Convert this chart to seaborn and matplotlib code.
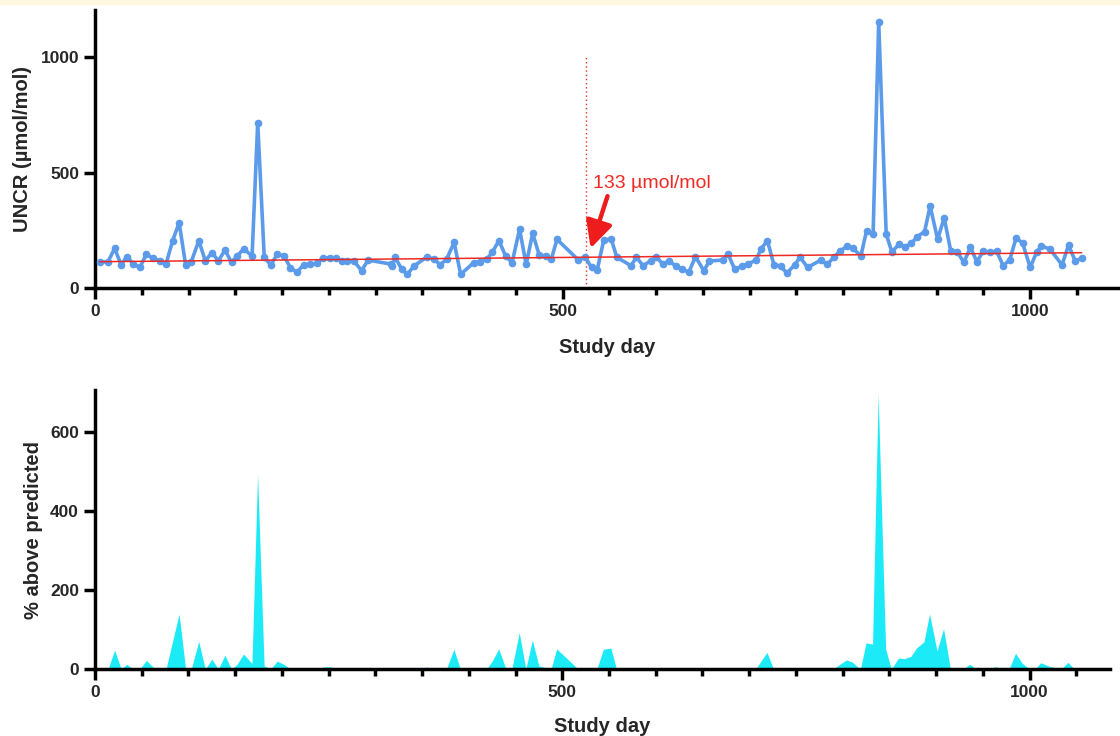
import numpy as np
import pandas as pd
import matplotlib
matplotlib.use("Agg")
import matplotlib.pyplot as plt
from matplotlib.ticker import MultipleLocator
from matplotlib.patches import Rectangle
import seaborn as sns

sns.set_style("ticks")
plt.rcParams['font.family'] = ['Liberation Sans', 'DejaVu Sans']

# urinary N-terminal ... creatinine ratio readings
study_day = [5, 14, 21, 28, 34, 41, 48, 55, 62, 70, 76, 83, 90, 97, 103, 111, 118, 125, 132, 139,
             146, 152, 159, 168, 174, 181, 188, 195, 202, 209, 216, 223, 230, 237, 244, 251, 258, 264, 270, 277,
             285, 292, 316, 318, 321, 328, 334, 341, 355, 363, 369, 376, 384, 391, 405, 412, 419, 425, 432, 439,
             446, 454, 461, 468, 475, 482, 488, 494, 517, 524, 531, 537, 544, 552, 558, 573, 579, 586, 594, 600,
             607, 614, 621, 628, 635, 642, 651, 657, 671, 677, 684, 692, 698, 707, 712, 719, 726, 733, 740, 748,
             754, 762, 776, 783, 790, 797, 804, 810, 819, 825, 832, 838, 846, 852, 860, 866, 873, 879, 887, 893,
             901, 908, 915, 922, 929, 936, 943, 950, 957, 964, 971, 978, 985, 992, 1000, 1007, 1012, 1021, 1034, 1041,
             1048, 1055]
uncr = [111, 114, 172, 100, 136, 104, 89, 147, 128, 118, 104, 205, 283, 98, 114, 205, 118, 153, 118, 164,
        111, 139, 169, 139, 717, 133, 100, 147, 139, 88, 68, 100, 102, 107, 130, 131, 128, 118, 118, 117,
        75, 121, 104, 95, 133, 81, 59, 95, 135, 124, 100, 125, 198, 59, 110, 114, 124, 157, 205, 139,
        110, 255, 102, 237, 143, 139, 125, 211, 121, 135, 89, 78, 208, 212, 133, 97, 133, 97, 117, 136,
        104, 117, 95, 82, 68, 136, 75, 117, 121, 147, 81, 95, 104, 121, 169, 205, 100, 95, 64, 100,
        133, 89, 121, 102, 133, 161, 181, 172, 140, 248, 234, 1153, 234, 157, 190, 179, 193, 222, 244, 355,
        211, 304, 161, 157, 111, 176, 114, 161, 154, 161, 97, 121, 218, 193, 89, 157, 182, 169, 100, 186,
        118, 128]
pct_above = [0, 0, 48, 0, 12, 0, 0, 22, 5, 0, 0, 70, 139, 0, 0, 70, 0, 25, 0, 35,
             0, 12, 38, 14, 492, 8, 0, 20, 12, 0, 0, 0, 0, 0, 5, 6, 2, 0, 0, 0,
             0, 0, 0, 0, 3, 0, 0, 0, 5, 0, 0, 0, 50, 0, 0, 0, 0, 20, 51, 5,
             0, 92, 0, 73, 8, 4, 0, 51, 0, 0, 0, 0, 50, 53, 0, 0, 0, 0, 0, 0,
             0, 0, 0, 0, 0, 0, 0, 0, 0, 0, 0, 0, 0, 0, 18, 42, 0, 0, 0, 0,
             0, 0, 0, 0, 0, 12, 23, 18, 0, 66, 63, 695, 51, 0, 28, 26, 32, 53, 69, 139,
             46, 102, 4, 3, 0, 12, 0, 3, 1, 6, 0, 0, 40, 15, 0, 3, 16, 7, 0, 17,
             0, 0]

trend_days = [5, 1055]
trend_vals = [114, 153]
marker_day = 525
marker_label = "133 µmol/mol"

df = pd.DataFrame({"day": study_day, "uncr": uncr, "pct": pct_above})

fig = plt.figure(figsize=(11.2, 7.36), dpi=100)
fig.patches.append(Rectangle((0, 0.994), 1, 0.006, transform=fig.transFigure,
                             color="#FFF7DF", zorder=0))

ax1 = fig.add_axes([0.0848, 0.6087, 0.9152, 0.3777])
ax2 = fig.add_axes([0.0848, 0.0910, 0.9062, 0.3790])

blue = "#5B9BEA"
sns.lineplot(data=df, x="day", y="uncr", ax=ax1, color=blue, lw=2.6,
             marker="o", markersize=5.5, markeredgewidth=0, zorder=3)
ax1.plot(trend_days, trend_vals, color="#EE2A24", lw=1.1, zorder=4)
ax1.vlines(marker_day, 0, 1000, color="#EE2A24", lw=1, linestyles=(0, (1, 2)), zorder=2)
ax1.annotate("", xy=(530, 172), xytext=(548, 398),
             arrowprops=dict(arrowstyle="-|>,head_length=0.9,head_width=0.45",
                             color="#EE1C1C", lw=3.2, mutation_scale=18,
                             shrinkA=0, shrinkB=0))
ax1.text(532, 455, marker_label, color="#EE2A24", fontsize=14, va="center", ha="left")

ax1.set_xlim(0, 1096)
ax1.set_ylim(0, 1205)
ax1.set_ylabel("UNCR (µmol/mol)", fontsize=14.5, fontweight="bold", labelpad=6)
ax1.set_xlabel("Study day", fontsize=14.5, fontweight="bold", labelpad=14)

ax2.fill_between(df["day"], 0, df["pct"], color="#1CEBF7", lw=0)
ax2.set_xlim(0, 1086)
ax2.set_ylim(0, 705)
ax2.set_yticks([0, 200, 400, 600])
ax2.set_ylabel("% above predicted", fontsize=14.5, fontweight="bold", labelpad=5)
ax2.set_xlabel("Study day", fontsize=14.5, fontweight="bold", labelpad=12)

ax1.set_yticks([0, 500, 1000])
for ax in (ax1, ax2):
    ax.xaxis.set_major_locator(MultipleLocator(500))
    ax.xaxis.set_minor_locator(MultipleLocator(50))
    for s in ("top", "right"):
        ax.spines[s].set_visible(False)
    for s in ("left", "bottom"):
        ax.spines[s].set_linewidth(2.5)
        ax.spines[s].set_color("black")
    ax.tick_params(which="major", length=8, width=2.5, labelsize=12.5, color="black")
    ax.tick_params(which="minor", length=5, width=2.5, color="black")
    for lab in ax.get_xticklabels() + ax.get_yticklabels():
        lab.set_fontweight("bold")
    ax.set_facecolor("white")

fig.savefig("out.png", dpi=100)
